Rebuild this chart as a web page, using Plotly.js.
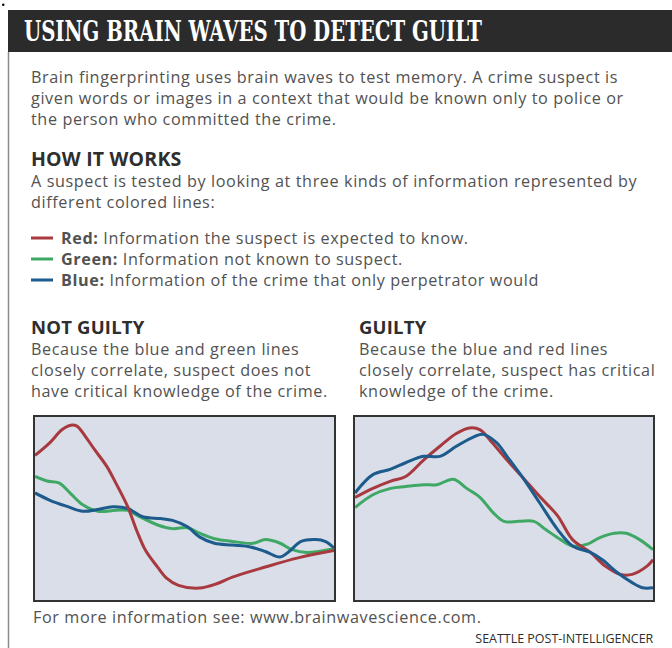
<!DOCTYPE html>
<html><head><meta charset="utf-8">
<script src="https://cdn.plot.ly/plotly-3.0.1.min.js"></script>
<style>html,body{margin:0;padding:0;background:#fff;}#chart{width:672px;height:648px;}</style>
</head><body><div id="chart"></div>
<script>
// ---- data (normalized brain-wave amplitude, 0-100, time 0-100) ----
const ngRedX   = [0, 5, 9, 12, 14, 17, 20, 24, 27, 31, 34, 37, 41, 44, 48, 55, 61, 66, 77, 88, 100];
const ngRedY   = [79, 86, 93, 95.5, 95, 89, 82, 73, 64, 51, 38, 27, 18, 12, 8, 6.5, 9, 12.5, 18, 23, 27];
const ngGreenX = [0, 4, 8, 12, 16, 21, 27, 31, 35, 41, 46, 51, 55, 60, 66, 73, 77, 82, 86, 91, 100];
const ngGreenY = [67.5, 65, 64, 58, 52, 48.5, 49, 49, 45.5, 41, 39, 39.5, 36.5, 33.5, 32, 31, 33, 31, 27.5, 26, 28];
const ngBlueX  = [0, 5, 11, 16, 21, 26, 31, 36, 42, 46, 51, 55, 60, 66, 72, 77, 82, 85, 89, 94, 97, 100];
const ngBlueY  = [58.5, 54.5, 51, 48.5, 49.5, 51, 50, 45.5, 44.5, 43.5, 40, 34.5, 31, 30, 29, 26.5, 23.5, 26.5, 32, 33, 32, 28.5];

const gRedX   = [0, 6, 12, 17, 23, 28.5, 34, 38.5, 42, 46, 51, 56, 62, 68, 73, 79, 84, 89, 93, 98, 100];
const gRedY   = [56, 61, 65, 67.5, 76.5, 84, 91, 94, 93, 86, 76.5, 67.5, 56.5, 46, 33, 26, 18.5, 14, 14, 18.5, 22];
const gGreenX = [0, 6, 12, 17, 23, 27.5, 33, 37.5, 42, 46.5, 50, 55, 60, 64, 69, 73, 78, 82, 87, 91, 95.5, 100];
const gGreenY = [50.5, 57.5, 61, 62, 63, 63, 66, 61, 56, 47.5, 43, 43, 43, 38.5, 33, 29.5, 30.5, 34, 36.5, 36.5, 33, 27.5];
const gBlueX  = [0, 6, 12, 17, 23, 28.5, 34, 39, 43, 47.5, 51, 56, 62, 68, 73, 79, 83, 88, 93, 96.5, 100];
const gBlueY  = [58.5, 68.5, 71.5, 75, 78.5, 78.5, 84, 88.5, 90.5, 86, 78.5, 67.5, 53, 38.5, 29.5, 26, 22, 15, 9.5, 6.7, 6.7];

const titleText = "USING BRAIN WAVES TO DETECT GUILT";
const introLines = [
  "Brain fingerprinting uses brain waves to test memory. A crime suspect is",
  "given words or images in a context that would be known only to police or",
  "the person who committed the crime."
];
const howHead = "HOW IT WORKS";
const howLines = [
  "A suspect is tested by looking at three kinds of information represented by",
  "different colored lines:"
];
const legendNames = ["Red:", "Green:", "Blue:"];
const legendTexts = [
  " Information the suspect is expected to know.",
  " Information not known to suspect.",
  " Information of the crime that only perpetrator would"
];
const panelHeads = ["NOT GUILTY", "GUILTY"];
const panelLines = [
  ["Because the blue and green lines", "closely correlate, suspect does not", "have critical knowledge of the crime."],
  ["Because the blue and red lines", "closely correlate, suspect has critical", "knowledge of the crime."]
];
const footerText = "For more information see: www.brainwavescience.com.";
const creditText = "SEATTLE POST-INTELLIGENCER";

// ---- styling ----
const W = 672, H = 648;
const RED = "#a8393f", GREEN = "#3fa865", BLUE = "#1c5b8c";
const BODY = "#525252", HEAD = "#2e2e2e";
const FONT = "Open Sans";
const BS = 16.2;            // body size -> 21px line pitch
const LS = "letter-spacing:0.6px";
const px = x => x / W;
const py = y => 1 - y / H;
const sp = t => "<span style='" + LS + "'>" + t + "</span>";
const hd = (t, s) => "<b><span style='font-size:" + s + "px;color:" + HEAD + ";letter-spacing:0.2px'>" + t + "</span></b>";

function line(x, y, color, xa, ya) {
  return {x, y, xaxis: xa, yaxis: ya, type: "scatter", mode: "lines",
    line: {color, width: 3, shape: "spline", smoothing: 1}, hoverinfo: "skip", showlegend: false};
}
const traces = [
  line(ngGreenX, ngGreenY, GREEN, "x", "y"),
  line(ngBlueX, ngBlueY, BLUE, "x", "y"),
  line(ngRedX, ngRedY, RED, "x", "y"),
  line(gGreenX, gGreenY, GREEN, "x2", "y2"),
  line(gRedX, gRedY, RED, "x2", "y2"),
  line(gBlueX, gBlueY, BLUE, "x2", "y2")
];

const ann = [];
function txt(text, x, y, size, color, opts) {
  ann.push(Object.assign({text, x: px(x), y: py(y), xref: "paper", yref: "paper",
    xanchor: "left", yanchor: "middle", align: "left", showarrow: false,
    font: {family: FONT, size, color}}, opts || {}));
}
txt(titleText, 22, 31, 27.5, "#ffffff", {font: {family: "DejaVu Serif", size: 27.5, color: "#fff", weight: 700}});
txt(introLines.map(sp).join("<br>"), 29, 98, BS, BODY);
txt([hd(howHead, 19.5)].concat(howLines.map(sp)).join("<br>"), 29, 179, BS, BODY);
txt(legendNames.map((n, i) => sp("<b>" + n + "</b>" + legendTexts[i])).join("<br>"), 59, 259, BS, BODY);
panelHeads.forEach((h, i) =>
  txt([hd(h, 18.5)].concat(panelLines[i].map(sp)).join("<br>"), i ? 357 : 29, 358, BS, BODY));
txt(sp(footerText), 31, 617, BS, BODY);
txt(creditText, 656, 638, 12, HEAD, {xanchor: "right", align: "right"});

const shapes = [
  {type: "rect", xref: "paper", yref: "paper", x0: px(8), x1: px(672), y0: py(52), y1: py(10),
   fillcolor: "#2b2b2b", line: {width: 0}, layer: "below"},
  {type: "line", xref: "paper", yref: "paper", x0: px(8.5), x1: px(8.5), y0: py(52), y1: py(648),
   line: {color: "#8a8a8a", width: 1.5}},
  {type: "circle", xref: "paper", yref: "paper", x0: px(2), x1: px(4.5), y0: py(6), y1: py(3.5),
   fillcolor: "#000", line: {width: 0}}
];
const legColors = [RED, GREEN, BLUE];
legColors.forEach((c, i) => shapes.push({type: "line", xref: "paper", yref: "paper",
  x0: px(31), x1: px(53), y0: py(238 + i * 21), y1: py(238 + i * 21), line: {color: c, width: 3}}));

function ax(domain, anchor) {
  return {domain, anchor, range: [0, 100], showgrid: false, zeroline: false, showticklabels: false,
    ticks: "", showline: true, mirror: true, linecolor: "#333", linewidth: 2, fixedrange: true};
}
const layout = {
  width: W, height: H, margin: {l: 0, r: 0, t: 0, b: 0},
  paper_bgcolor: "#ffffff", plot_bgcolor: "#d9dee8", showlegend: false,
  xaxis: ax([px(35), px(334)], "y"),
  yaxis: ax([py(600), py(417)], "x"),
  xaxis2: ax([px(355), px(653)], "y2"),
  yaxis2: ax([py(600), py(417)], "x2"),
  annotations: ann, shapes
};
Plotly.newPlot("chart", traces, layout, {staticPlot: true, displayModeBar: false}).then(() => {
  // condense the headline and credit line to the reference widths
  document.querySelectorAll("text.annotation-text").forEach(el => {
    if (el.textContent === titleText) {
      el.setAttribute("textLength", "458");
      el.setAttribute("lengthAdjust", "spacingAndGlyphs");
    } else if (el.textContent === creditText) {
      el.setAttribute("textLength", "178");
      el.setAttribute("lengthAdjust", "spacingAndGlyphs");
    }
  });
});
</script></body></html>
